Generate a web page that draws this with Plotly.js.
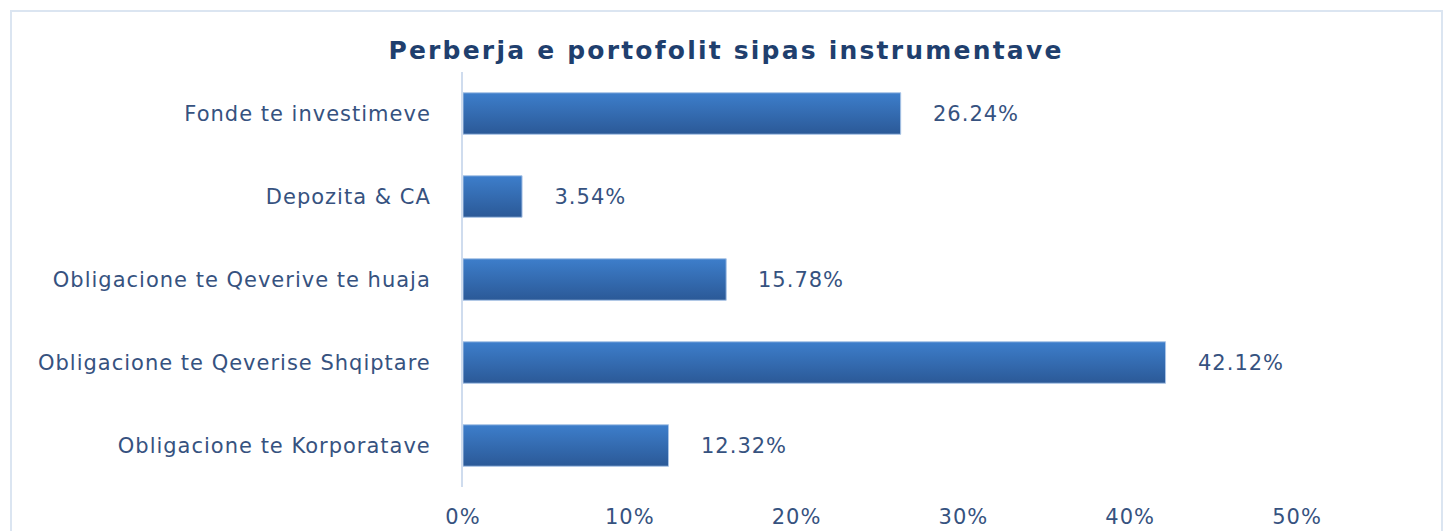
<!DOCTYPE html>
<html>
<head>
<meta charset="utf-8">
<script src="https://cdn.plot.ly/plotly-3.0.1.min.js"></script>
<style>
  html, body { margin: 0; padding: 0; background: #ffffff; width: 1443px; height: 531px; overflow: hidden; }
  #chart { position: absolute; left: 0; top: 0; width: 1443px; height: 531px; }
  #frame { position: absolute; left: 10px; top: 10px; width: 1433px; height: 600px;
           border: 2px solid #dbe5f1; pointer-events: none; box-sizing: border-box; }
  #chart text { letter-spacing: 1px; }
  #chart .gtitle { letter-spacing: 2.2px; }
</style>
</head>
<body>
<div id="chart"></div>
<div id="frame"></div>
<script>
// Data (top to bottom as shown)
const categories = [
  "Fonde te investimeve",
  "Depozita & CA",
  "Obligacione te Qeverive te huaja",
  "Obligacione te Qeverise Shqiptare",
  "Obligacione te Korporatave"
];
const shares = [26.24, 3.54, 15.78, 42.12, 12.32];
const titleText = "Perberja e portofolit sipas instrumentave";
const xTicks = [0, 10, 20, 30, 40, 50];
const xTickLabels = ["0%", "10%", "20%", "30%", "40%", "50%"];

const textColor = "#36527f";
const fontFam = "DejaVu Sans, sans-serif";

const trace = {
  type: "bar",
  orientation: "h",
  x: shares,
  y: categories,
  width: 0.5,
  marker: { color: "#356db3", line: { color: "#a9c4e6", width: 1 } },
  hoverinfo: "skip"
};

const annotations = shares.map((v, i) => ({
  x: v, y: categories[i], xref: "x", yref: "y",
  text: v.toFixed(2) + "%",
  showarrow: false, xanchor: "left", yanchor: "middle", xshift: 33,
  font: { family: fontFam, size: 21, color: textColor }
}));

const layout = {
  width: 1443, height: 531,
  margin: { l: 463, r: 146, t: 72, b: 44 },
  paper_bgcolor: "#ffffff",
  plot_bgcolor: "#ffffff",
  showlegend: false,
  title: {
    text: "<b>" + titleText + "</b>",
    font: { family: fontFam, size: 25, color: "#1f3f6e" },
    x: 726 / 1443, xref: "container", xanchor: "center",
    y: 1 - 50 / 531, yref: "container", yanchor: "middle"
  },
  xaxis: {
    range: [0, 50],
    tickvals: xTicks,
    ticktext: xTickLabels,
    showgrid: false, zeroline: false, showline: false,
    ticks: "", ticklabelstandoff: 15,
    tickfont: { family: fontFam, size: 21, color: textColor },
    fixedrange: true
  },
  yaxis: {
    autorange: "reversed",
    showgrid: false, zeroline: false,
    showline: true, linecolor: "#cfdcee", linewidth: 2,
    ticks: "", ticklabelstandoff: 26,
    tickfont: { family: fontFam, size: 21, color: textColor },
    fixedrange: true
  },
  annotations: annotations
};

Plotly.newPlot("chart", [trace], layout, { displayModeBar: false, staticPlot: true }).then(gd => {
  // vertical gradient fill for the bars, like the original
  const svg = gd.querySelector("svg.main-svg");
  const ns = "http://www.w3.org/2000/svg";
  let defs = svg.querySelector("defs");
  if (!defs) { defs = document.createElementNS(ns, "defs"); svg.insertBefore(defs, svg.firstChild); }
  const grad = document.createElementNS(ns, "linearGradient");
  grad.setAttribute("id", "barGrad");
  grad.setAttribute("x1", "0"); grad.setAttribute("y1", "0");
  grad.setAttribute("x2", "0"); grad.setAttribute("y2", "1");
  [["0", "#3d7ecb"], ["1", "#2b5997"]].forEach(([o, c]) => {
    const s = document.createElementNS(ns, "stop");
    s.setAttribute("offset", o); s.setAttribute("stop-color", c);
    grad.appendChild(s);
  });
  defs.appendChild(grad);
  gd.querySelectorAll(".bars .point path").forEach(p => { p.style.fill = "url(#barGrad)"; });
});
</script>
</body>
</html>
